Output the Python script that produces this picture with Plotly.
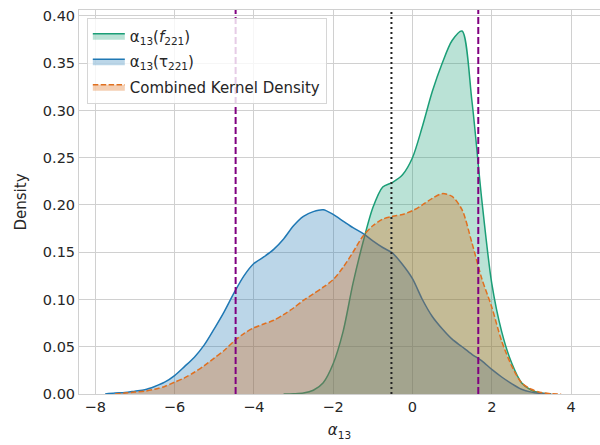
import plotly.graph_objects as go

# alpha_13(f_221) density
x_f221 = [-3.25, -3.0, -2.75, -2.5, -2.25, -2.0, -1.75, -1.5, -1.25, -1.0, -0.75, -0.5, -0.25,
          0.0, 0.25, 0.5, 0.75, 1.0, 1.25, 1.5, 1.75, 2.0, 2.25, 2.5, 2.75, 3.0, 3.25, 3.5]
dens_f221 = [0.0, 0.0003, 0.001, 0.004, 0.012, 0.032, 0.066, 0.117, 0.160, 0.197, 0.219, 0.224, 0.232,
             0.250, 0.283, 0.320, 0.350, 0.374, 0.384, 0.310, 0.205, 0.117, 0.066, 0.033, 0.012,
             0.004, 0.001, 0.0]

# alpha_13(tau_221) density
x_tau221 = [-7.75, -7.5, -7.25, -7.0, -6.75, -6.5, -6.25, -6.0, -5.75, -5.5, -5.25, -5.0, -4.75,
            -4.5, -4.25, -4.0, -3.75, -3.5, -3.25, -3.0, -2.75, -2.5, -2.25, -2.0, -1.75, -1.5,
            -1.25, -1.0, -0.75, -0.5, -0.25, 0.0, 0.25, 0.5, 0.75, 1.0, 1.25, 1.5, 1.75, 2.0,
            2.25, 2.5, 2.75, 3.0, 3.25, 3.5]
dens_tau221 = [0.0, 0.001, 0.0015, 0.003, 0.0045, 0.008, 0.0125, 0.0195, 0.029, 0.039, 0.052, 0.069,
               0.087, 0.107, 0.125, 0.138, 0.145, 0.153, 0.164, 0.178, 0.188, 0.193, 0.195, 0.190,
               0.183, 0.176, 0.170, 0.162, 0.155, 0.149, 0.137, 0.122, 0.100, 0.082, 0.069, 0.058,
               0.050, 0.042, 0.035, 0.026, 0.018, 0.011, 0.005, 0.002, 0.0005, 0.0]

# Combined kernel density
x_combined = [-7.5, -7.25, -7.0, -6.75, -6.5, -6.25, -6.0, -5.75, -5.5, -5.25, -5.0, -4.75, -4.5,
              -4.25, -4.0, -3.75, -3.5, -3.25, -3.0, -2.75, -2.5, -2.25, -2.0, -1.75, -1.5, -1.25,
              -1.0, -0.75, -0.5, -0.25, 0.0, 0.25, 0.5, 0.75, 1.0, 1.25, 1.5, 1.75, 2.0, 2.25,
              2.5, 2.75, 3.0, 3.25, 3.5, 3.75]
dens_combined = [0.0, 0.001, 0.002, 0.003, 0.005, 0.008, 0.0125, 0.017, 0.023, 0.030, 0.038, 0.046,
                 0.056, 0.064, 0.070, 0.074, 0.078, 0.084, 0.091, 0.099, 0.106, 0.113, 0.121, 0.134,
                 0.150, 0.167, 0.178, 0.185, 0.188, 0.190, 0.194, 0.200, 0.207, 0.212, 0.209, 0.195,
                 0.160, 0.122, 0.092, 0.056, 0.030, 0.012, 0.005, 0.0015, 0.0003, 0.0]

series_names = ["α<sub>13</sub>(<i>f</i><sub>221</sub>)",
                "α<sub>13</sub>(τ<sub>221</sub>)",
                "Combined Kernel Density"]

vlines_purple = [-4.46, 1.66]
vlines_black = [-0.53]

x_ticks = [-8, -6, -4, -2, 0, 2, 4]
y_ticks = [0.0, 0.05, 0.10, 0.15, 0.20, 0.25, 0.30, 0.35, 0.40]

font_family = "DejaVu Sans"
text_color = "#262626"
grid_color = "#d0d0d0"

fig = go.Figure()

fig.add_trace(go.Scatter(
    x=x_f221, y=dens_f221, name=series_names[0], mode="lines", legendgroup="g1",
    line=dict(color="#1b9e77", width=1.5, shape="spline", smoothing=0.8),
    fill="tozeroy", fillcolor="rgba(27,158,119,0.3)"))

fig.add_trace(go.Scatter(
    x=x_tau221, y=dens_tau221, name=series_names[1], mode="lines", legendgroup="g2",
    line=dict(color="#1f78b4", width=1.5, shape="spline", smoothing=0.8),
    fill="tozeroy", fillcolor="rgba(31,120,180,0.3)"))

fig.add_trace(go.Scatter(
    x=x_combined, y=dens_combined, name=series_names[2], mode="lines", legendgroup="g3",
    line=dict(color="#e07020", width=1.5, dash="5.5px,2.4px", shape="spline", smoothing=0.8),
    fill="tozeroy", fillcolor="rgba(217,95,2,0.3)"))

shapes = []
for v in vlines_purple:
    shapes.append(dict(type="line", xref="x", yref="paper", x0=v, x1=v, y0=0, y1=1,
                       line=dict(color="purple", width=2, dash="7px,3px")))
for v in vlines_black:
    shapes.append(dict(type="line", xref="x", yref="paper", x0=v, x1=v, y0=0, y1=1,
                       line=dict(color="#222222", width=2, dash="2px,3px")))

fig.update_layout(
    width=600, height=445,
    margin=dict(l=79, r=0, t=10, b=51),
    paper_bgcolor="white", plot_bgcolor="white",
    font=dict(family=font_family, size=14, color=text_color),
    shapes=shapes,
    showlegend=True,
    legend=dict(x=0.015, y=0.978, xanchor="left", yanchor="top",
                bgcolor="rgba(255,255,255,0.8)", bordercolor="#d6d6d6", borderwidth=1,
                font=dict(family=font_family, size=15, color=text_color),
                traceorder="grouped", tracegroupgap=3, itemwidth=32),
    xaxis=dict(range=[-8.41, 4.73], tickvals=x_ticks, showgrid=True, gridcolor=grid_color,
               gridwidth=1, zeroline=False, showline=True, linecolor=grid_color, linewidth=1,
               mirror=True, ticks="", tickfont=dict(size=14.5, color=text_color),
               title=dict(text="<i>α</i><sub>13</sub>", standoff=10,
                          font=dict(size=15, color=text_color))),
    yaxis=dict(range=[0, 0.4063], tickvals=y_ticks, tickformat=".2f", showgrid=True,
               gridcolor=grid_color, gridwidth=1, zeroline=False, showline=True,
               linecolor=grid_color, linewidth=1, mirror=False, ticks="",
               tickfont=dict(size=14.5, color=text_color),
               title=dict(text="Density", standoff=12, font=dict(size=15, color=text_color))),
)

fig.write_html("out.html")
